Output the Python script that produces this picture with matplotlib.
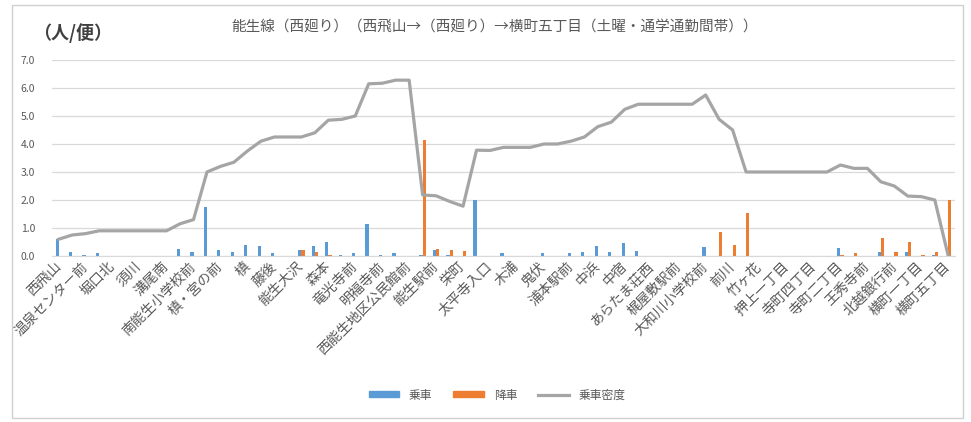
import matplotlib
matplotlib.use("Agg")
import matplotlib.pyplot as plt
from matplotlib.patches import Rectangle, Patch
from matplotlib.lines import Line2D
import numpy as np

plt.rcParams['font.family'] = ['Noto Sans CJK JP', 'DejaVu Sans']

# every other stop carries a label on the axis
stop_labels = ['西飛山', '温泉センター前', '堀口北', '須川', '溝尾南', '南能生小学校前',
               '槙・宮の前', '槙', '藤後', '能生大沢', '森本', '竜光寺前', '明福寺前',
               '西能生地区公民館前', '能生駅前', '栄町', '太平寺入口', '木浦', '鬼伏',
               '浦本駅前', '中浜', '中宿', 'あらたま荘西', '梶屋敷駅前', '大和川小学校前',
               '前川', '竹ヶ花', '押上一丁目', '寺町四丁目', '寺町二丁目', '王秀寺前',
               '北越銀行前', '横町一丁目', '横町五丁目']

boarding = [0.6, 0.15, 0.05, 0.1, 0, 0, 0, 0, 0, 0.25,
            0.15, 1.75, 0.2, 0.15, 0.4, 0.35, 0.1, 0, 0.2, 0.35,
            0.5, 0.03, 0.1, 1.15, 0.02, 0.1, 0, 0.05, 0.22, 0.02,
            0, 2.0, 0, 0.1, 0, 0, 0.12, 0, 0.1, 0.13,
            0.37, 0.16, 0.46, 0.18, 0, 0, 0, 0, 0.33, 0,
            0, 0, 0, 0, 0, 0, 0, 0, 0.3, 0,
            0, 0.15, 0, 0.15, 0, 0.05, 0]

alighting = [0, 0, 0, 0, 0, 0, 0, 0, 0, 0,
             0, 0, 0, 0, 0, 0, 0, 0, 0.2, 0.15,
             0.05, 0, 0, 0, 0, 0, 0, 4.15, 0.25, 0.22,
             0.17, 0, 0, 0, 0, 0, 0, 0, 0, 0,
             0, 0, 0, 0, 0, 0, 0, 0, 0, 0.87,
             0.39, 1.52, 0, 0, 0, 0, 0, 0, 0.05, 0.12,
             0, 0.63, 0.15, 0.51, 0.02, 0.15, 2.0]

density = [0.6, 0.75, 0.8, 0.9, 0.9, 0.9, 0.9, 0.9, 0.9, 1.15,
           1.3, 3.0, 3.2, 3.35, 3.75, 4.1, 4.25, 4.25, 4.25, 4.4,
           4.85, 4.88, 5.0, 6.15, 6.17, 6.28, 6.28, 2.18, 2.15, 1.95,
           1.78, 3.78, 3.77, 3.88, 3.88, 3.88, 4.0, 4.0, 4.1, 4.25,
           4.62, 4.78, 5.24, 5.42, 5.42, 5.42, 5.42, 5.42, 5.75, 4.88,
           4.5, 3.0, 3.0, 3.0, 3.0, 3.0, 3.0, 3.0, 3.25, 3.13,
           3.13, 2.65, 2.5, 2.14, 2.12, 2.0, 0.0]

blue = '#5B9BD5'
orange = '#ED7D31'
gray = '#A5A5A5'
txt = '#595959'

fig = plt.figure(figsize=(9.71, 4.22), dpi=100)
ax = fig.add_axes([52/971, 1-256/422, 903/971, 196/422])

x = np.arange(len(density))
w = 0.24
ax.bar(x - w/2, boarding, width=w, color=blue, zorder=2)
ax.bar(x + w/2, alighting, width=w, color=orange, zorder=2)
ax.plot(x, density, color=gray, lw=2.3, zorder=3, solid_joinstyle='round')

ax.set_xlim(-0.5, len(density) - 0.5)
ax.set_ylim(0, 7)
ax.set_yticks(np.arange(0, 7.1, 1.0))
ax.set_yticklabels([f'{v:.1f}' for v in np.arange(0, 7.1, 1.0)], fontsize=7.5, color=txt)
ax.yaxis.grid(True, color='#D9D9D9', lw=0.9)
ax.set_axisbelow(True)
for s in ['top', 'right', 'left']:
    ax.spines[s].set_visible(False)
ax.spines['bottom'].set_color('#D9D9D9')
ax.tick_params(axis='y', length=0, pad=12)
ax.tick_params(axis='x', length=0, pad=6)

ax.set_xticks(x[::2])
ax.set_xticklabels(stop_labels, rotation=45, ha='right', va='center',
                   rotation_mode='anchor', fontsize=10, color=txt)

fig.text(495/971, 1-27/422, '能生線（西廻り）（西飛山→（西廻り）→横町五丁目（土曜・通学通勤間帯））',
         ha='center', va='center', fontsize=10.5, color=txt)
fig.text(33/971, 1-33/422, '（人/便）', ha='left', va='center', fontsize=13,
         fontweight='bold', color='#404040')

handles = [Patch(color=blue), Patch(color=orange), Line2D([], [], color=gray, lw=2.3)]
fig.legend(handles, ['乗車', '降車', '乗車密度'], loc='center', ncol=3,
           bbox_to_anchor=(497/971, 1-395/422), frameon=False, fontsize=8.5,
           handlelength=2.6, handleheight=0.45, columnspacing=1.8, labelcolor=txt)

fig.patches.append(Rectangle((12/971, 4/422), 951/971, 413/422, transform=fig.transFigure,
                             fill=False, edgecolor='#D0D0D0', lw=1))

fig.savefig('out.png', dpi=100)
